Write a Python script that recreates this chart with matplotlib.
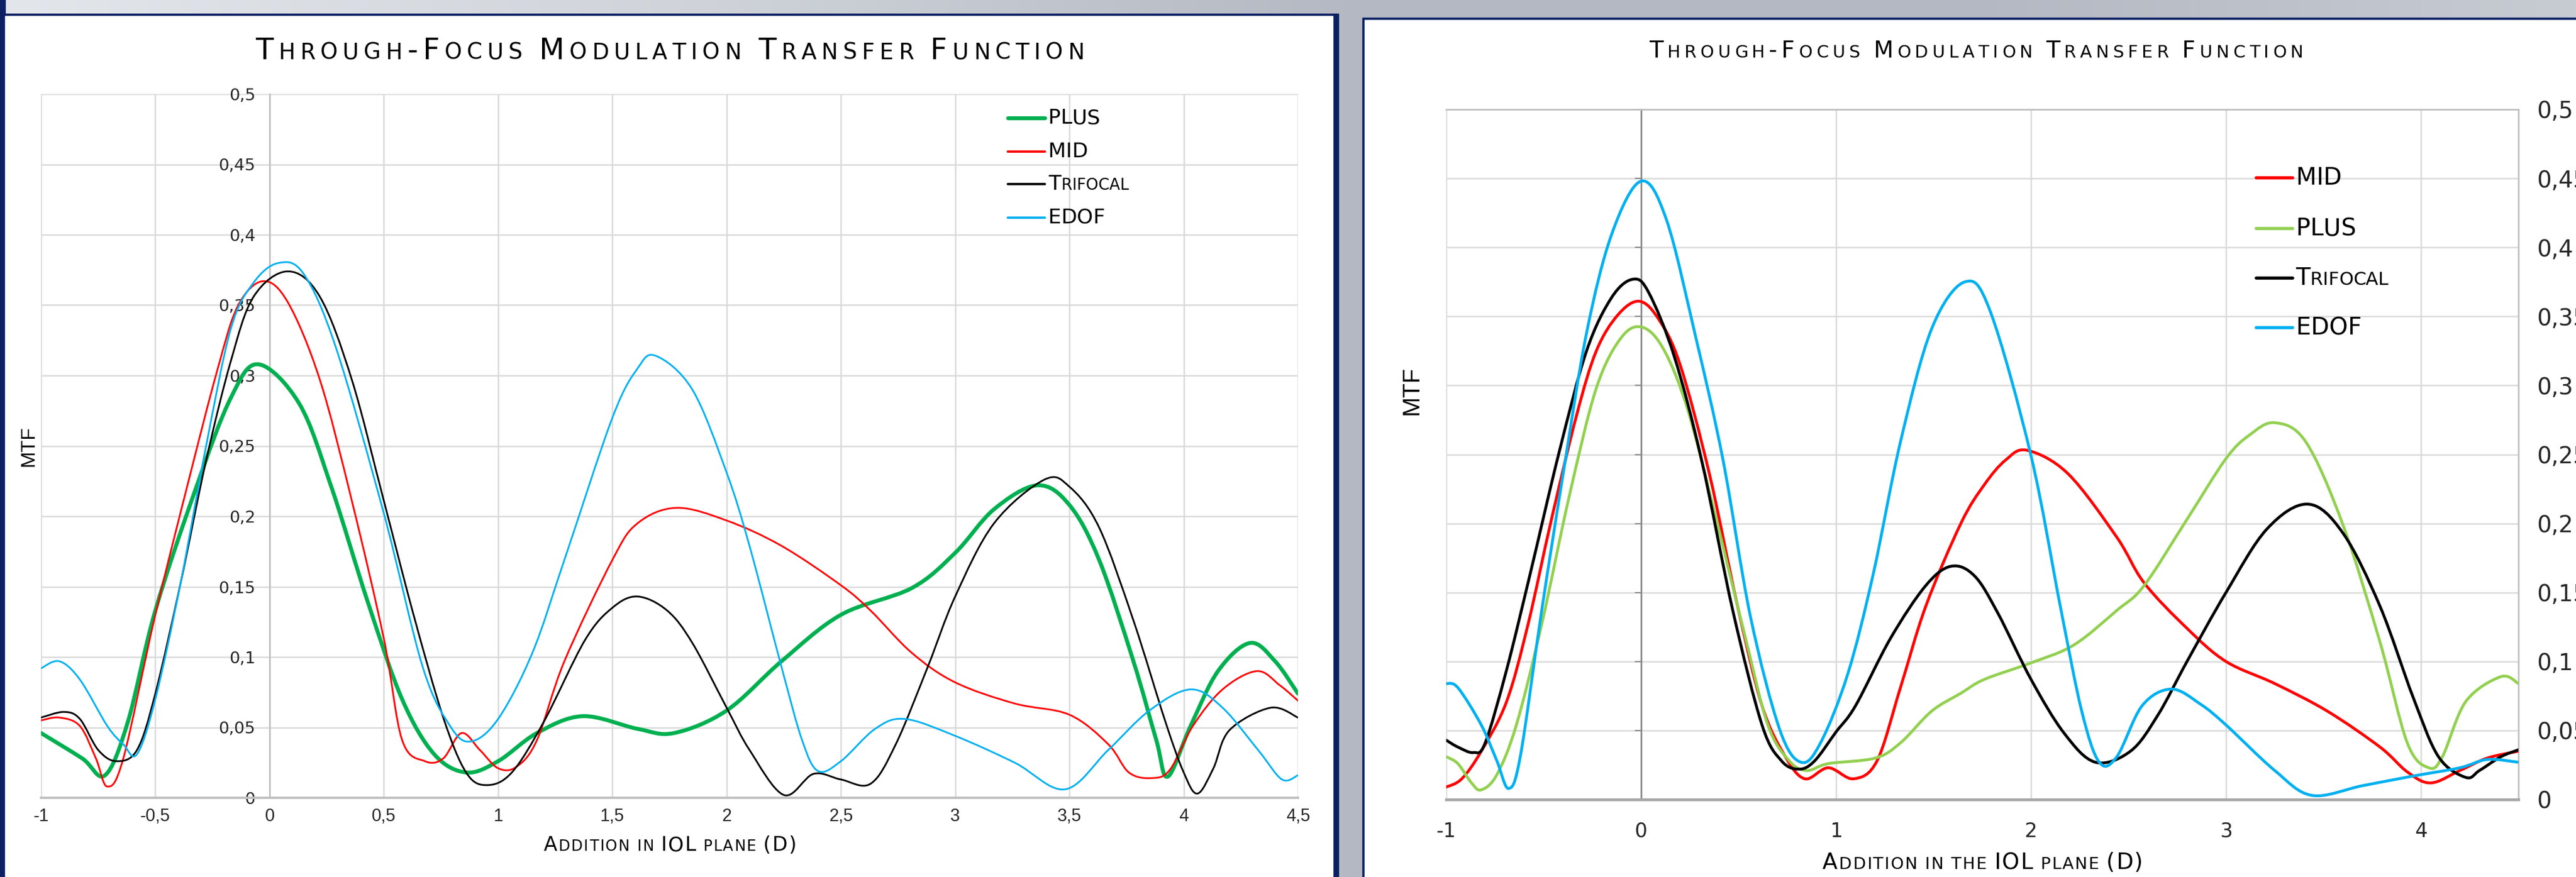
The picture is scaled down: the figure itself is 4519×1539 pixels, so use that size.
import numpy as np
import matplotlib
matplotlib.use("Agg")
import matplotlib.pyplot as plt
from matplotlib.path import Path
from matplotlib.patches import PathPatch, Rectangle
from matplotlib.lines import Line2D
from matplotlib.offsetbox import TextArea, HPacker, DrawingArea, AnchoredOffsetbox

W, H, DPI = 4519, 1539, 100

# ---------------- left chart: Addition in IOL plane ----------------
l_plus_x = [-1, -0.82, -0.72, -0.62, -0.5, -0.32, -0.17, -0.05, 0.13, 0.27, 0.43, 0.58, 0.72, 0.86, 1.0, 1.17,
            1.37, 1.61, 1.77, 2.0, 2.24, 2.5, 2.81, 3.0, 3.17, 3.36, 3.5, 3.63, 3.78, 3.88, 3.93, 4.03, 4.15,
            4.29, 4.4, 4.5]
l_plus_y = [0.046, 0.028, 0.016, 0.054, 0.133, 0.221, 0.284, 0.308, 0.28, 0.221, 0.139, 0.07, 0.031, 0.018,
            0.026, 0.046, 0.058, 0.049, 0.046, 0.062, 0.097, 0.13, 0.149, 0.174, 0.205, 0.222, 0.208, 0.169,
            0.097, 0.041, 0.015, 0.051, 0.09, 0.11, 0.097, 0.074]

l_mid_x = [-1, -0.92, -0.83, -0.76, -0.71, -0.64, -0.5, -0.35, -0.23, -0.14, -0.03, 0.08, 0.22, 0.36, 0.5, 0.58,
           0.68, 0.76, 0.84, 0.92, 1.0, 1.08, 1.17, 1.29, 1.5, 1.61, 1.78, 2.0, 2.24, 2.5, 2.63, 2.81, 3.0, 3.26,
           3.5, 3.67, 3.76, 3.86, 3.94, 4.04, 4.17, 4.32, 4.42, 4.5]
l_mid_y = [0.055, 0.057, 0.051, 0.028, 0.008, 0.028, 0.13, 0.228, 0.303, 0.349, 0.367, 0.352, 0.297, 0.211,
           0.113, 0.041, 0.026, 0.028, 0.046, 0.034, 0.021, 0.022, 0.041, 0.097, 0.169, 0.195, 0.206, 0.197,
           0.179, 0.151, 0.133, 0.103, 0.082, 0.067, 0.059, 0.038, 0.018, 0.014, 0.02, 0.051, 0.077, 0.09,
           0.08, 0.069]

l_tri_x = [-1, -0.9, -0.83, -0.75, -0.67, -0.58, -0.5, -0.39, -0.28, -0.17, -0.07, 0.08, 0.22, 0.36, 0.5, 0.63,
           0.76, 0.86, 0.95, 1.06, 1.2, 1.38, 1.5, 1.61, 1.74, 1.85, 2.0, 2.1, 2.25, 2.38, 2.5, 2.63, 2.74, 2.88,
           3.0, 3.17, 3.39, 3.5, 3.63, 3.78, 3.92, 4.0, 4.06, 4.13, 4.2, 4.38, 4.5]
l_tri_y = [0.057, 0.061, 0.056, 0.034, 0.026, 0.034, 0.074, 0.152, 0.238, 0.31, 0.356, 0.374, 0.356, 0.297,
           0.211, 0.13, 0.057, 0.018, 0.009, 0.018, 0.054, 0.112, 0.135, 0.143, 0.133, 0.11, 0.064, 0.034,
           0.002, 0.017, 0.013, 0.01, 0.038, 0.093, 0.143, 0.195, 0.226, 0.221, 0.192, 0.126, 0.054, 0.018,
           0.003, 0.021, 0.048, 0.064, 0.057]

l_edof_x = [-1, -0.92, -0.83, -0.71, -0.64, -0.58, -0.5, -0.39, -0.28, -0.17, -0.07, 0.04, 0.15, 0.29, 0.5, 0.67,
            0.79, 0.88, 1.0, 1.15, 1.29, 1.5, 1.61, 1.69, 1.85, 2.0, 2.1, 2.24, 2.33, 2.4, 2.5, 2.65, 2.78, 3.0,
            3.26, 3.48, 3.67, 3.85, 4.03, 4.17, 4.33, 4.43, 4.5]
l_edof_y = [0.092, 0.097, 0.084, 0.051, 0.038, 0.031, 0.07, 0.152, 0.248, 0.333, 0.366, 0.38, 0.372, 0.32,
            0.202, 0.093, 0.051, 0.04, 0.056, 0.103, 0.169, 0.27, 0.305, 0.314, 0.29, 0.231, 0.179, 0.093,
            0.041, 0.019, 0.026, 0.049, 0.056, 0.044, 0.025, 0.006, 0.034, 0.062, 0.077, 0.064, 0.033, 0.013,
            0.016]

# ---------------- right chart: Addition in the IOL plane ----------------
r_mid_x = [-1, -0.92, -0.82, -0.69, -0.58, -0.46, -0.33, -0.23, -0.12, -0.01, 0.09, 0.2, 0.35, 0.49, 0.62,
           0.74, 0.84, 0.96, 1.09, 1.21, 1.33, 1.46, 1.64, 1.76, 1.87, 1.98, 2.19, 2.44, 2.58, 2.8, 3.0, 3.25,
           3.52, 3.79, 3.93, 4.05, 4.2, 4.34, 4.5]
r_mid_y = [0.009, 0.015, 0.035, 0.071, 0.127, 0.203, 0.279, 0.325, 0.351, 0.361, 0.348, 0.315, 0.236, 0.143,
           0.068, 0.031, 0.015, 0.023, 0.015, 0.028, 0.081, 0.14, 0.2, 0.228, 0.246, 0.253, 0.236, 0.19, 0.157,
           0.124, 0.1, 0.084, 0.064, 0.038, 0.02, 0.012, 0.021, 0.03, 0.035]

r_plus_x = [-1, -0.94, -0.87, -0.82, -0.74, -0.64, -0.51, -0.37, -0.23, -0.1, 0.01, 0.12, 0.24, 0.38, 0.53,
            0.65, 0.76, 0.85, 0.96, 1.2, 1.33, 1.49, 1.64, 1.76, 2.0, 2.22, 2.44, 2.58, 2.8, 3.0, 3.12, 3.25,
            3.41, 3.6, 3.79, 3.93, 4.04, 4.11, 4.23, 4.41, 4.5]
r_plus_y = [0.031, 0.026, 0.012, 0.007, 0.018, 0.054, 0.127, 0.219, 0.298, 0.335, 0.342, 0.325, 0.282, 0.206,
            0.12, 0.054, 0.028, 0.021, 0.026, 0.03, 0.041, 0.064, 0.077, 0.087, 0.099, 0.112, 0.137, 0.155,
            0.203, 0.247, 0.264, 0.273, 0.259, 0.199, 0.114, 0.041, 0.023, 0.031, 0.071, 0.089, 0.084]

r_tri_x = [-1, -0.94, -0.86, -0.8, -0.69, -0.57, -0.42, -0.28, -0.15, -0.04, 0.04, 0.17, 0.31, 0.47, 0.62,
           0.72, 0.81, 0.89, 1.0, 1.1, 1.28, 1.46, 1.59, 1.71, 1.83, 2.0, 2.17, 2.33, 2.51, 2.65, 2.8, 3.0,
           3.21, 3.42, 3.6, 3.79, 3.96, 4.09, 4.23, 4.3, 4.41, 4.5]
r_tri_y = [0.043, 0.038, 0.034, 0.041, 0.094, 0.163, 0.252, 0.325, 0.364, 0.377, 0.367, 0.321, 0.246, 0.137,
           0.054, 0.028, 0.022, 0.028, 0.049, 0.068, 0.117, 0.155, 0.169, 0.162, 0.135, 0.087, 0.048, 0.027,
           0.035, 0.061, 0.1, 0.15, 0.196, 0.214, 0.193, 0.14, 0.074, 0.031, 0.016, 0.021, 0.031, 0.036]

r_edof_x = [-1, -0.94, -0.82, -0.74, -0.68, -0.62, -0.51, -0.4, -0.28, -0.15, 0.0, 0.13, 0.28, 0.42, 0.56,
            0.71, 0.82, 0.92, 1.06, 1.19, 1.33, 1.49, 1.66, 1.79, 2.0, 2.15, 2.26, 2.35, 2.44, 2.57, 2.72, 2.87,
            3.0, 3.25, 3.44, 3.7, 3.96, 4.2, 4.34, 4.5]
r_edof_y = [0.084, 0.081, 0.054, 0.028, 0.008, 0.031, 0.137, 0.236, 0.338, 0.41, 0.448, 0.42, 0.335, 0.246,
            0.133, 0.051, 0.027, 0.041, 0.091, 0.163, 0.259, 0.341, 0.375, 0.354, 0.249, 0.14, 0.064, 0.027,
            0.031, 0.068, 0.08, 0.069, 0.054, 0.021, 0.003, 0.01, 0.017, 0.023, 0.029, 0.027]

TITLE = "Through-Focus Modulation Transfer Function"
L_XLABEL = "Addition in IOL plane (D)"
R_XLABEL = "Addition in the IOL plane (D)"

GREEN, LGREEN, RED, BLUE, NAVY = "#00b050", "#92d050", "#ff0000", "#00b0f0", "#0c2163"


def fx(px):
    return px / W


def fy(py):
    return 1 - py / H


def smooth_path(xs, ys):
    # Excel style smoothed line: Catmull-Rom segments as cubic Bezier curves
    p = np.column_stack([xs, ys]).astype(float)
    n = len(p)
    verts, codes = [p[0]], [Path.MOVETO]
    for i in range(n - 1):
        p0 = p[i - 1] if i > 0 else p[i]
        p1, p2 = p[i], p[i + 1]
        p3 = p[i + 2] if i + 2 < n else p[i + 1]
        verts += [p1 + (p2 - p0) / 6, p2 - (p3 - p1) / 6, p2]
        codes += [Path.CURVE4] * 3
    return Path(verts, codes)


def draw_series(ax, xs, ys, color, lw):
    ax.add_patch(PathPatch(smooth_path(xs, ys), fill=False, edgecolor=color, lw=lw,
                           capstyle="round", joinstyle="round", zorder=3))


def caps_box(text, big, small, color="black", track=0.0, family="DejaVu Sans"):
    # small caps: lower case letters drawn as smaller capitals
    kids = []
    for ch in text:
        if ch == " ":
            kids.append(DrawingArea(small * 0.32, 1))
        elif ch.islower():
            kids.append(TextArea(ch.upper(), textprops=dict(size=small, color=color, family=family)))
        else:
            kids.append(TextArea(ch, textprops=dict(size=big, color=color, family=family)))
    return HPacker(children=kids, align="baseline", pad=0, sep=track)


def place(fig, box, x, y, loc="center"):
    ab = AnchoredOffsetbox(loc=loc, child=box, pad=0, borderpad=0, frameon=False,
                           bbox_to_anchor=(fx(x), fy(y)), bbox_transform=fig.transFigure)
    fig.add_artist(ab)


def legend_row(fig, label, color, lw, x, y, line_len, big, small, gap):
    da = DrawingArea(line_len, 10)
    da.add_artist(Line2D([0, line_len], [5, 5], color=color, lw=lw, solid_capstyle="round"))
    row = HPacker(children=[da, caps_box(label, big, small)], align="center", pad=0, sep=gap)
    place(fig, row, x, y, loc="center left")


def comma(v):
    s = ("%.2f" % v).rstrip("0").rstrip(".")
    return s.replace(".", ",")


fig = plt.figure(figsize=(W / DPI, H / DPI), dpi=DPI)

# ---------------- background, window frames ----------------
bg = fig.add_axes([0, 0, 1, 1], zorder=-5)
bg.set_xlim(0, W)
bg.set_ylim(H, 0)
bg.axis("off")
gx = np.linspace(0, W, 400)
stops = [0, 1200, 2400, 3500, W]
cols = np.array([[0xe3, 0xe6, 0xeb], [0xd0, 0xd4, 0xda], [0xb3, 0xb8, 0xc2],
                 [0xb4, 0xb9, 0xc3], [0xc7, 0xcb, 0xd2]]) / 255
grad = np.stack([np.interp(gx, stops, cols[:, k]) for k in range(3)], axis=-1)[None, :, :]
bg.imshow(grad, extent=(0, W, H, 0), aspect="auto")
bg.add_patch(Rectangle((0, 0), 9, H, color=NAVY))
bg.add_patch(Rectangle((6, 24), 2342, H, color=NAVY))
bg.add_patch(Rectangle((9, 28), 2329, H, color="white"))
bg.add_patch(Rectangle((2390, 31), W, H, color=NAVY))
bg.add_patch(Rectangle((2394, 35), W, H, color="white"))

# ---------------- left chart ----------------
axl = fig.add_axes([fx(72), fy(1400), (2277 - 72) / W, (1400 - 165) / H])
axl.set_facecolor("none")
axl.set_xlim(-1, 4.5)
axl.set_ylim(0, 0.5)
lx = np.arange(-1, 4.51, 0.5)
ly = np.arange(0, 0.501, 0.05)
axl.set_xticks(lx, [comma(v) for v in lx])
axl.set_yticks(ly, [comma(v) for v in ly])
axl.grid(True, color="#d9d9d9", lw=1.8)
axl.set_axisbelow(True)
for s in ["top", "right"]:
    axl.spines[s].set_visible(False)
axl.spines["left"].set_position(("data", 0))
axl.spines["left"].set_color("#bfbfbf")
axl.spines["left"].set_linewidth(2.0)
axl.spines["bottom"].set_color("#bfbfbf")
axl.spines["bottom"].set_linewidth(3.0)
axl.tick_params(axis="both", length=0, labelcolor="#262626")
axl.tick_params(axis="x", pad=13, labelsize=22, labelfontfamily="Liberation Sans")
axl.tick_params(axis="y", pad=18, labelsize=21, labelfontfamily="DejaVu Sans")

draw_series(axl, l_plus_x, l_plus_y, GREEN, 5.0)
draw_series(axl, l_mid_x, l_mid_y, RED, 2.2)
draw_series(axl, l_tri_x, l_tri_y, "black", 2.2)
draw_series(axl, l_edof_x, l_edof_y, BLUE, 2.2)

# ---------------- right chart ----------------
axr = fig.add_axes([fx(2537), fy(1403), (4418 - 2537) / W, (1403 - 192) / H])
axr.set_facecolor("none")
axr.set_xlim(-1, 4.5)
axr.set_ylim(0, 0.5)
rx = np.arange(-1, 4.01, 1)
axr.set_xticks(rx, [comma(v) for v in rx])
axr.set_yticks(ly, [comma(v) for v in ly])
axr.grid(True, color="#d9d9d9", lw=1.8)
axr.set_axisbelow(True)
axr.spines["left"].set_position(("data", 0))
axr.spines["left"].set_color("#868686")
axr.spines["left"].set_linewidth(2.0)
for s in ["top", "right"]:
    axr.spines[s].set_color("#bfbfbf")
    axr.spines[s].set_linewidth(2.0)
axr.spines["bottom"].set_color("#a6a6a6")
axr.spines["bottom"].set_linewidth(3.5)
axr.tick_params(axis="both", labelcolor="#262626", labelfontfamily="DejaVu Sans")
axr.tick_params(axis="x", length=0, pad=28, labelsize=25)
# value labels run past the right edge of the picture, as in the source screenshot
axr.tick_params(axis="y", left=True, right=False, labelleft=False, labelright=True,
                direction="out", length=8, width=1.5, color="#868686", pad=15, labelsize=29)

draw_series(axr, r_mid_x, r_mid_y, RED, 3.6)
draw_series(axr, r_plus_x, r_plus_y, LGREEN, 3.6)
draw_series(axr, r_tri_x, r_tri_y, "black", 3.6)
draw_series(axr, r_edof_x, r_edof_y, BLUE, 3.6)

# ---------------- titles, axis labels ----------------
place(fig, caps_box(TITLE, 37, 28, track=6.2), 1175, 90)
place(fig, caps_box(TITLE, 29, 22, track=5), 3467, 90)
place(fig, caps_box(L_XLABEL, 25, 19, track=1.5), 1175, 1483)
place(fig, caps_box(R_XLABEL, 28, 21, track=1.5), 3478, 1514)
fig.text(fx(50), fy(783), "MTF", rotation=90, ha="center", va="center",
         family="Liberation Sans", size=25)
fig.text(fx(2477), fy(685), "MTF", rotation=90, ha="center", va="center",
         family="Liberation Sans", size=30)

# ---------------- legends ----------------
for lab, col, lw, yy in [("PLUS", GREEN, 5.0, 207), ("MID", RED, 3.0, 266),
                         ("Trifocal", "black", 3.0, 323), ("EDOF", BLUE, 3.0, 382)]:
    legend_row(fig, lab, col, lw, 1768, yy, 47, 26, 20, 4)

for lab, col, yy in [("MID", RED, 312), ("PLUS", LGREEN, 401),
                     ("Trifocal", "black", 488), ("EDOF", BLUE, 575)]:
    legend_row(fig, lab, col, 4.0, 3958, yy, 46, 30, 23, 4)

fig.savefig("out.png", dpi=DPI)
